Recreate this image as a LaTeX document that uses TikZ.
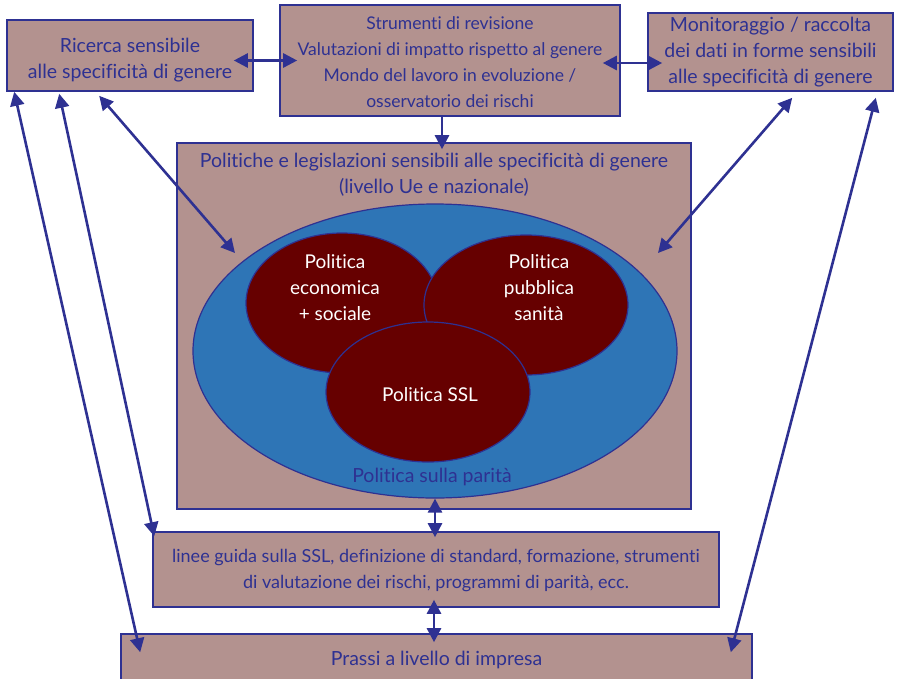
\documentclass[tikz,border=0pt]{standalone}
\usepackage{fontspec}
\setmainfont{Lato}[Ligatures=NoCommon]
\usetikzlibrary{shapes.geometric,arrows.meta,calc}

\definecolor{boxfill}{RGB}{179,146,143}
\definecolor{ink}{RGB}{46,49,146}
\definecolor{parity}{RGB}{46,117,182}
\definecolor{policy}{RGB}{102,0,0}

\tikzset{
  box/.style={draw=ink, line width=1.6pt, fill=boxfill, text=ink, align=center,
    inner sep=0pt, font=\fontsize{19.5}{26}\selectfont},
  label/.style={text=ink, align=center, inner sep=0pt, font=\fontsize{19.5}{26}\selectfont},
  inlabel/.style={text=white, align=center, inner sep=0pt, font=\fontsize{19}{26}\selectfont},
  circ/.style={ellipse, draw=ink, line width=1.2pt, inner sep=0pt},
  tip/.tip={Triangle[length=14pt,width=14pt]},
  link/.style={draw=ink, line width=2.6pt, tip-tip},
  onelink/.style={draw=ink, line width=2.6pt, -tip}
}

\begin{document}
\begin{tikzpicture}[x=1pt,y=-1pt]
\useasboundingbox (0,0) rectangle (897,678);

% top row of boxes
\node[box, minimum width=246pt, minimum height=71pt] (ric) at (130,55.5) {};
\node[label] (rict) at (130,60) {Ricerca sensibile\\alle specificità di genere};
\node[box, minimum width=340pt, minimum height=111pt, font=\fontsize{17.5}{26}\selectfont] (str) at (450,60.5) {};
\node[label, font=\fontsize{17.5}{26}\selectfont] (strt) at (450,62.5)
  {Strumenti di revisione\\Valutazioni di impatto rispetto al genere\\Mondo del lavoro in evoluzione /\\osservatorio dei rischi};
\node[box, minimum width=245pt, minimum height=78pt] (mon) at (770.5,52)
  {Monitoraggio / raccolta\\dei dati in forme sensibili\\alle specificità di genere};

% policy frame with the nested policy areas
\node[box, minimum width=514pt, minimum height=366pt] (pol) at (434,326) {};
\node[label] (poltitle) at (434,175)
  {Politiche e legislazioni sensibili alle specificità di genere\\(livello Ue e nazionale)};
\node[circ, fill=parity, minimum width=484pt, minimum height=294pt] (par) at (435,351) {};
\node[circ, fill=policy, minimum width=192pt, minimum height=140pt] (eco) at (342,303) {};
\node[circ, fill=policy, minimum width=204pt, minimum height=140pt] (pub) at (526,305) {};
\node[circ, fill=policy, minimum width=204pt, minimum height=140pt] (ssl) at (428,392) {};
\node[inlabel] (ecot) at (335,288) {Politica\\economica\\+ sociale};
\node[inlabel] (pubt) at (539,288) {Politica\\pubblica\\sanità};
\node[inlabel] (sslt) at (430,395) {Politica SSL};
\node[label] (part) at (432,477) {Politica sulla parità};

% lower boxes
\node[box, minimum width=566pt, minimum height=75pt] (linee) at (436,569.5) {};
\node[label, font=\fontsize{18}{26}\selectfont] (lineet) at (436,571)
  {linee guida sulla SSL, definizione di standard, formazione, strumenti\\di valutazione dei rischi, programmi di parità, ecc.};
\node[box, minimum width=631pt, minimum height=56pt] (prassi) at (436.5,662) {};
\node[label] (prassit) at (436.5,660) {Prassi a livello di impresa};

% connectors
\draw[link] ($(ric.east)+(-20,5)$) -- ($(ric.east -| str.west)+(18,5)$);
\draw[link] ($(str.east |- mon.west)+(-18,11)$) -- ($(mon.west)+(15,11)$);
\draw[onelink] ($(str.south)+(-8,0)$) -- ($(pol.north)+(8,7)$);
\draw[link] ($(ric.south west)+(93,4)$) -- ($(par.center)+(-200,-98)$);
\draw[link] ($(mon.south west)+(145,6)$) -- ($(par.center)+(223,-98)$);
\draw[link] ($(ric.south west)+(8,0)$) -- ($(prassi.north west)+(20,19)$);
\draw[link] ($(ric.south west)+(53,2)$) -- ($(linee.north west)+(2,5)$);
\draw[link] ($(mon.south east)+(-18,6)$) -- ($(prassi.north east)+(-22,19)$);
\draw[link] (par.south) -- ($(linee.north)+(-1,6)$);
\draw[link] ($(linee.south)+(-2,-8)$) -- ($(linee.south |- prassi.north)+(-2,9)$);
\end{tikzpicture}
\end{document}
